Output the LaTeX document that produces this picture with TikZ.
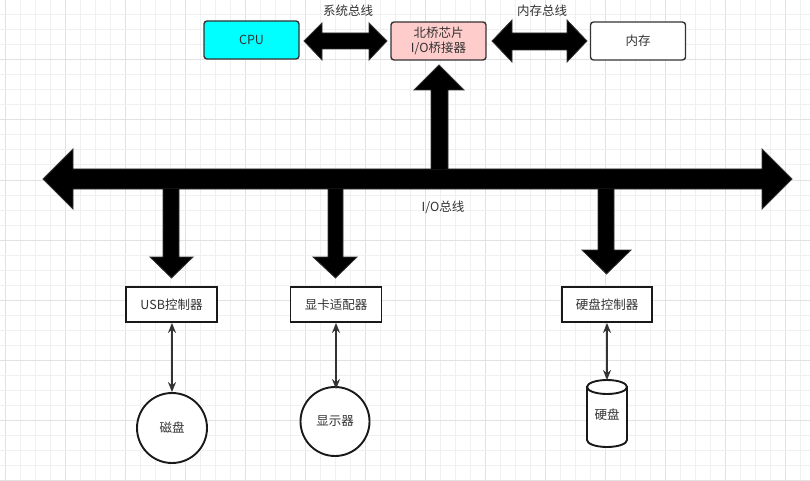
\documentclass[tikz,border=0pt]{standalone}
\usepackage{fontspec}
\setmainfont{Noto Sans CJK SC}
\usetikzlibrary{arrows.meta}
\definecolor{gridminor}{HTML}{F0F0F0}
\definecolor{gridmajor}{HTML}{E2E2E2}
\definecolor{txt}{HTML}{333333}
\definecolor{edge}{HTML}{333333}
\definecolor{cpufill}{HTML}{00FFFF}
\definecolor{nbfill}{HTML}{FFCCCC}
\tikzset{
  rbox/.style={draw=edge, line width=1.4pt, rounded corners=3pt, minimum width=95pt, minimum height=38pt, inner sep=0pt, align=center, text=txt, font=\fontsize{12.5}{15}\selectfont},
  sbox/.style={draw=black!90, line width=1.9pt, fill=white, minimum width=91pt, minimum height=35pt, inner sep=0pt, text=txt, font=\fontsize{12.5}{15}\selectfont},
  blockarrow/.style={fill=black, draw=edge, line width=0.8pt, line join=miter},
  thinarrow/.style={draw=edge, line width=1.6pt, {Stealth[length=10pt,width=8pt]}-{Stealth[length=10pt,width=8pt]}},
  lbl/.style={text=txt, font=\fontsize{12.5}{15}\selectfont, inner sep=0pt},
  disk/.style={circle, draw=black!90, line width=1.9pt, fill=white, minimum size=70pt, inner sep=0pt, text=txt, font=\fontsize{12.5}{15}\selectfont}
}
\begin{document}
\begin{tikzpicture}[x=1pt,y=-1pt]
\useasboundingbox (0,0) rectangle (810,481);
\fill[white] (0,0) rectangle (810,481);
% grid
\foreach \i in {0,...,53} {
  \pgfmathtruncatemacro{\gx}{5+15*\i}
  \pgfmathtruncatemacro{\m}{mod(\i,4)}
  \ifnum\m=0 \draw[gridmajor, line width=1pt] (\gx,0) -- (\gx,481);
  \else \draw[gridminor, line width=1pt] (\gx,0) -- (\gx,481); \fi
}
\foreach \j in {0,...,32} {
  \pgfmathtruncatemacro{\gy}{15*\j}
  \pgfmathtruncatemacro{\m}{mod(\j,4)}
  \ifnum\m=0 \draw[gridmajor, line width=1pt] (0,\gy) -- (810,\gy);
  \else \draw[gridminor, line width=1pt] (0,\gy) -- (810,\gy); \fi
}

% top nodes
\node[rbox, fill=cpufill] (cpu) at (251.5,40) {CPU};
\node[rbox, fill=nbfill] (nb) at (438.5,41) {北桥芯片\\I/O桥接器};
\node[rbox, fill=white] (mem) at (638,41) {内存};

% system bus double arrow
\draw[blockarrow] (304,41) -- (322,23) -- (322,33) -- (369,33) -- (369,23) -- (387,41)
  -- (369,60) -- (369,49) -- (322,49) -- (322,60) -- cycle;
\node[lbl] (sysbus) at (348,11) {系统总线};

% memory bus double arrow
\draw[blockarrow] (492,41) -- (512,20) -- (512,33) -- (567,33) -- (567,20) -- (587,41)
  -- (567,62) -- (567,50) -- (512,50) -- (512,62) -- cycle;
\node[lbl] (membus) at (542,11) {内存总线};

% I/O bus
\draw[blockarrow] (43,179) -- (73,149) -- (73,169) -- (762,169) -- (762,149) -- (792,179)
  -- (762,209) -- (762,189) -- (73,189) -- (73,209) -- cycle;
\node[lbl] (iobus) at (443,207) {I/O总线};

% up arrow to north bridge
\draw[blockarrow] (431,169) -- (431,90) -- (414,90) -- (439,65) -- (464,90) -- (448,90) -- (448,169);

% down arrows
\draw[blockarrow] (163,189) -- (163,257) -- (150,257) -- (171.5,278) -- (193,257) -- (179,257) -- (179,189);
\draw[blockarrow] (328,189) -- (328,257) -- (313,257) -- (335.5,278) -- (357,257) -- (343,257) -- (343,189);
\draw[blockarrow] (598,189) -- (598,250) -- (582,250) -- (606.5,274) -- (631,250) -- (614,250) -- (614,189);

% controllers
\node[sbox] (usb) at (171.5,304.5) {USB控制器};
\node[sbox] (gpu) at (336,304.5) {显卡适配器};
\node[sbox, minimum width=90pt] (hdc) at (607,304.5) {硬盘控制器};

% devices
\node[disk] (disk) at (172,428) {磁盘};
\node[disk, minimum size=69pt] (mon) at (335,421.5) {显示器};

% cylinder
\draw[black!90, line width=1.9pt, fill=white] (587,387) -- (587,440) arc[start angle=180, end angle=360, x radius=20pt, y radius=7pt] -- (627,387) -- cycle;
\draw[black!90, line width=1.9pt, fill=white] (607,387) ellipse [x radius=20pt, y radius=7pt];
\node[lbl] (hdd) at (607,415) {硬盘};
\coordinate (hddtop) at (607,380);

% thin double arrows
\draw[thinarrow] (usb.south -| disk.north) -- (disk.north);
\draw[thinarrow] (gpu.south) -- ([yshift=-3pt]mon.north -| gpu.south);
\draw[thinarrow] (hdc.south) -- (hddtop);
\end{tikzpicture}
\end{document}
